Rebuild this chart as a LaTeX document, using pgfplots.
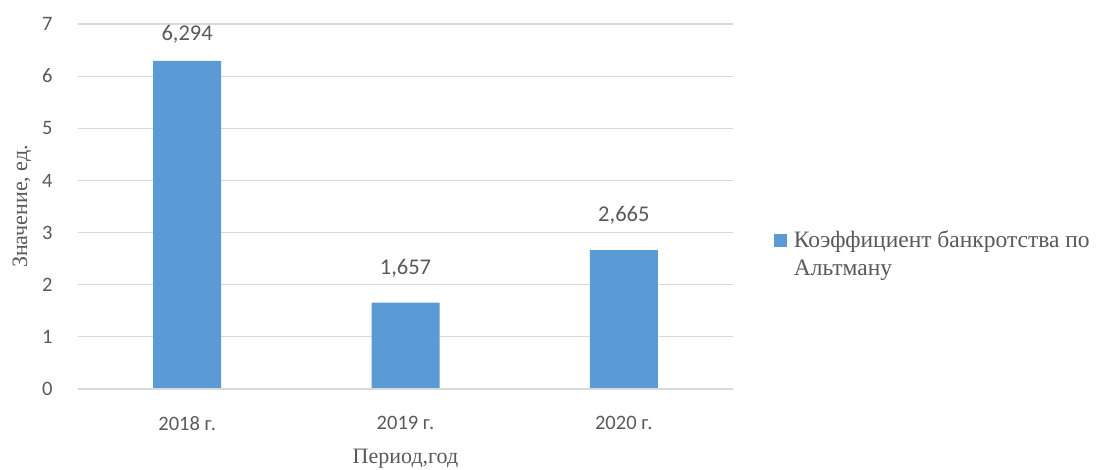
\documentclass[border=0pt]{standalone}
\usepackage{fontspec}
\setmainfont{Liberation Serif}
\newfontfamily\calibri{Carlito}
\usepackage{pgfplots}
\pgfplotsset{compat=1.18}
\definecolor{barblue}{HTML}{5B9BD5}
\definecolor{txtgray}{HTML}{595959}
\definecolor{gridgray}{HTML}{D9D9D9}
\begin{document}
\begin{tikzpicture}
\path[use as bounding box] (0,0) rectangle (1098pt,470pt);
\begin{axis}[
  at={(78pt,81pt)}, anchor=south west,
  width=655pt, height=365pt, scale only axis,
  ymin=0, ymax=7, ytick={0,1,...,7},
  xmin=-0.5, xmax=2.5,
  xtick=data, xticklabels={2018 г.,2019 г.,2020 г.},
  axis line style={draw=none},
  ymajorgrids, grid style={gridgray, line width=1.2pt},
  major tick length=0pt,
  /pgf/number format/assume math mode=true,
  ticklabel style={font=\calibri\fontsize{20.5}{24}\selectfont, text=txtgray},
  yticklabel style={xshift=-22pt},
  xticklabel style={yshift=-24pt},
  ylabel={Значение, ед.},
  xlabel={Период,год},
  label style={font=\fontsize{22}{26}\selectfont, text=txtgray},
  ylabel style={at={(rel axis cs:-0.0855,0.5)}, anchor=center},
  xlabel style={yshift=-12pt},
  visualization depends on={value \coordindex \as \idx},
  nodes near coords,
  nodes near coords style={font=\calibri\fontsize{22.5}{26}\selectfont, text=txtgray,
    yshift={ifthenelse(\idx==0,14,22)},
    /pgf/number format/fixed, /pgf/number format/fixed zerofill, /pgf/number format/precision=3,
    /pgf/number format/use comma, /pgf/number format/1000 sep={}, /pgf/number format/assume math mode=true},
  legend style={at={(rel axis cs:1.062,0.37)}, anchor=west, draw=none, fill=none,
    font=\fontsize{23.5}{28}\selectfont, text=txtgray, nodes={align=left}, inner sep=0pt},
  legend cell align=left,
  legend image code/.code={\fill[barblue] (0pt,7pt) rectangle (13pt,20pt); \path (18pt,7pt);},
]
\addplot[ybar, bar width=68pt, fill=barblue, draw=none] coordinates {(0,6.294) (1,1.657) (2,2.665)};
\addlegendentry{Коэффициент банкротства по\\Альтману}
\draw[gridgray, line width=1.2pt] (rel axis cs:0,0) -- (rel axis cs:1,0);
\end{axis}
\end{tikzpicture}
\end{document}
